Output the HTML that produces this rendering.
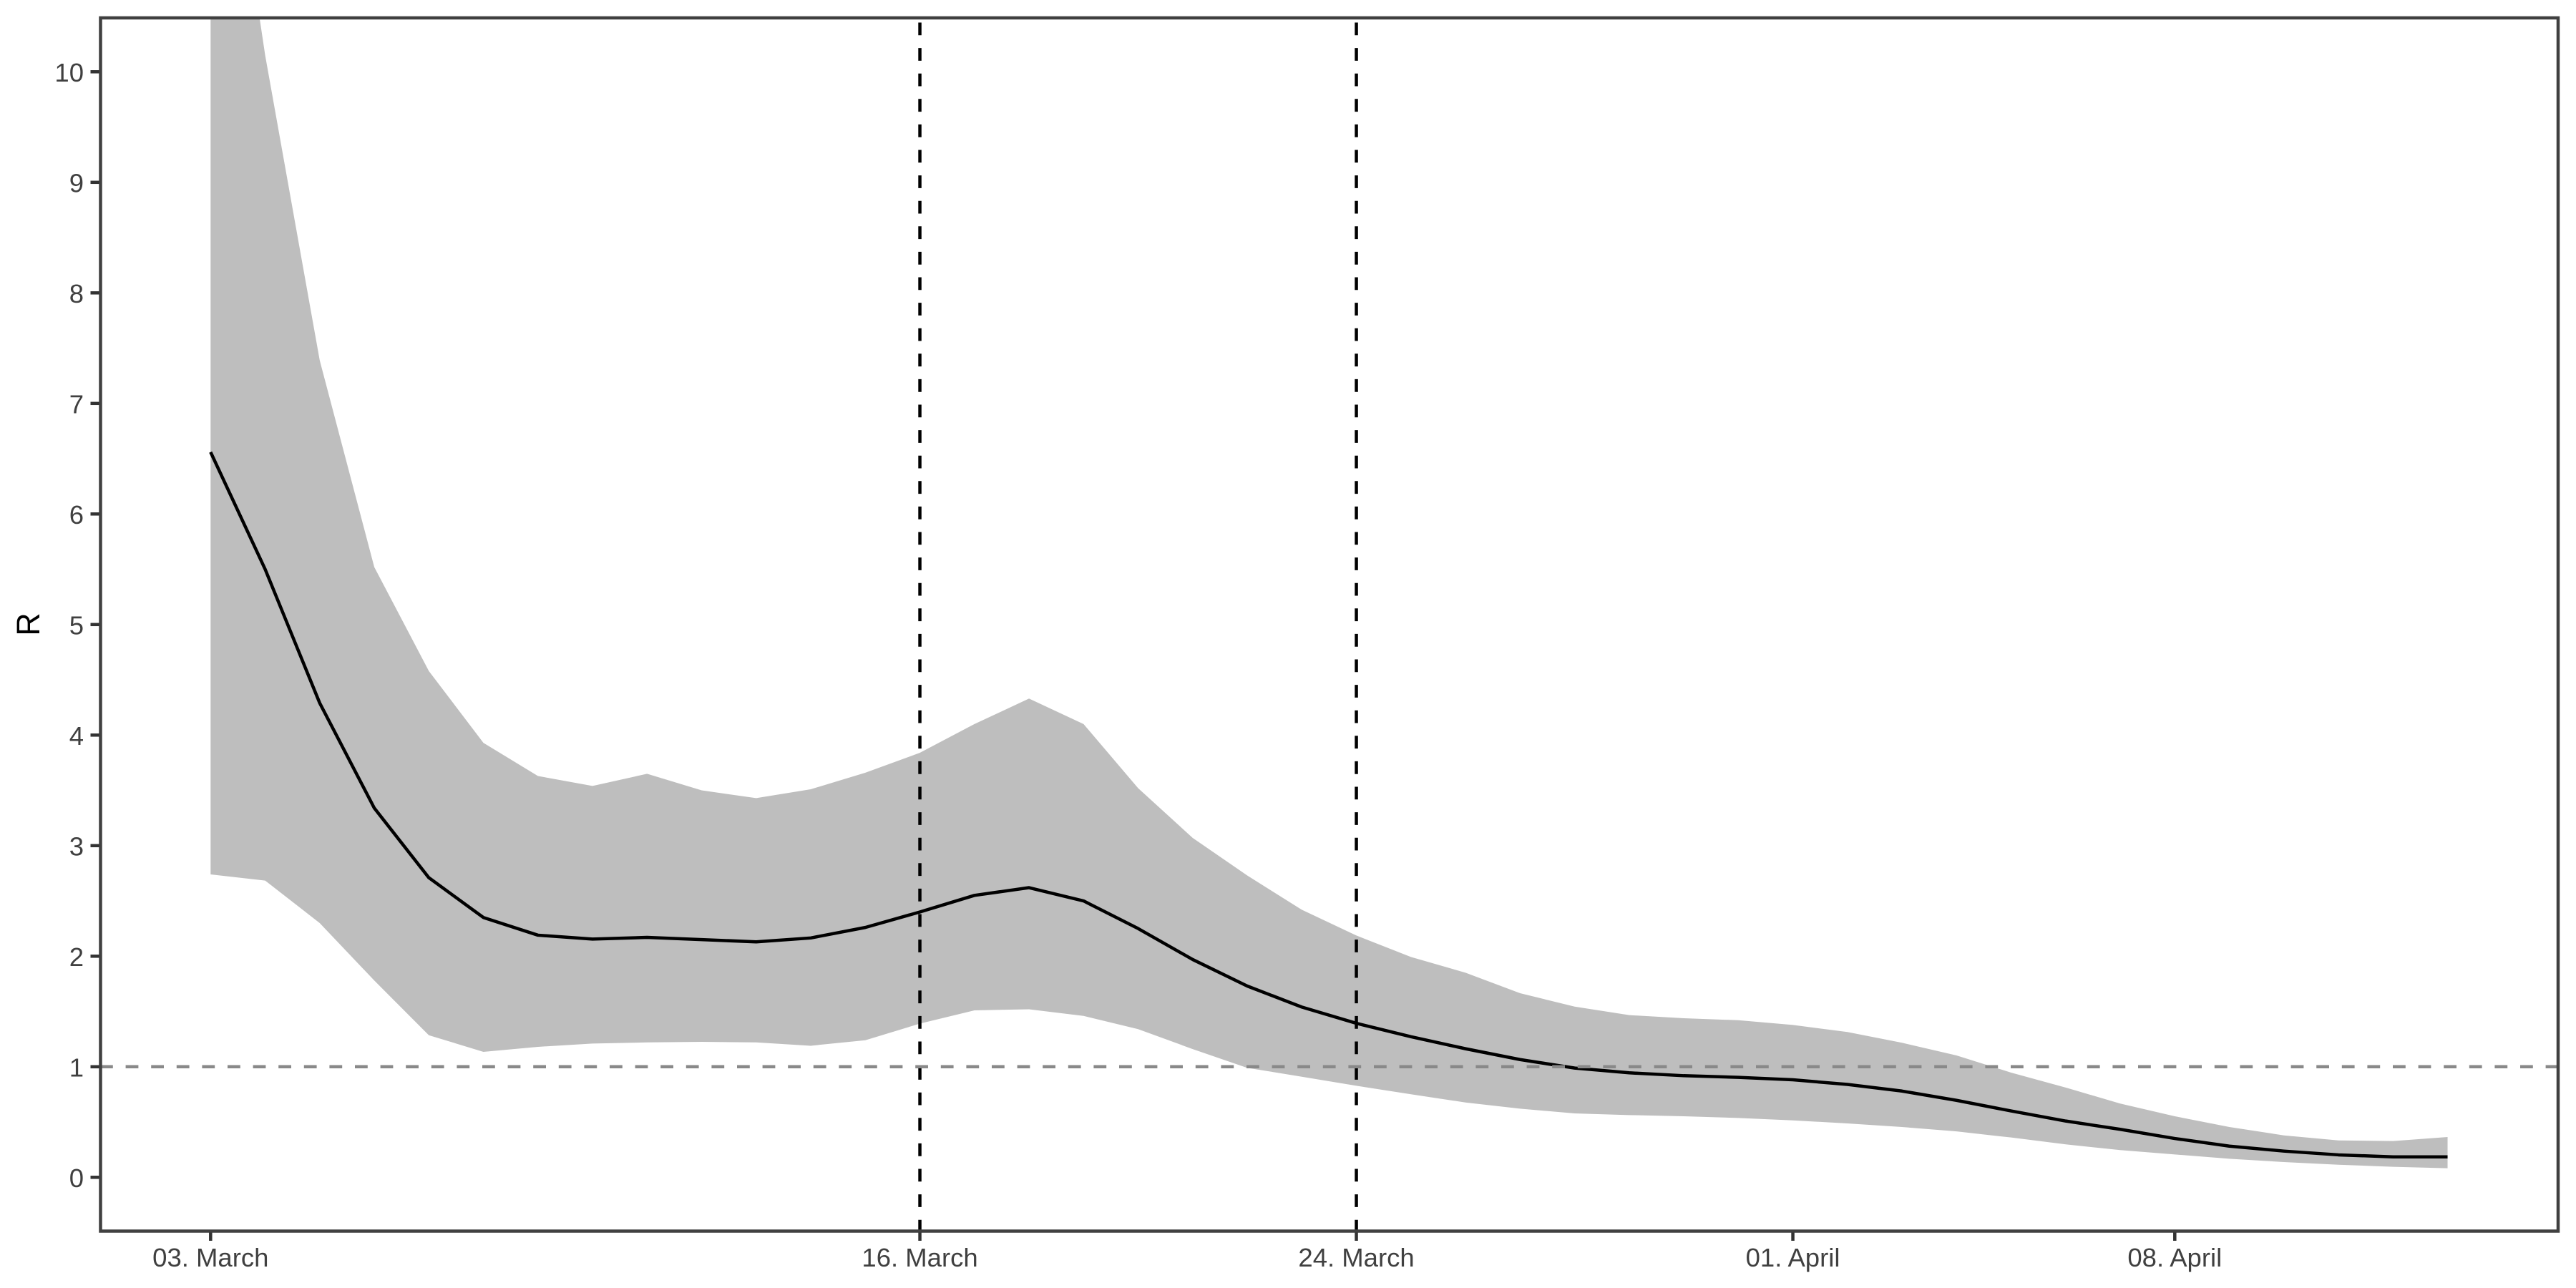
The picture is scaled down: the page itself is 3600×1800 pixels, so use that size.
<!DOCTYPE html>
<html lang="en">
<head>
<meta charset="utf-8">
<title>R over time</title>
<style>
html,body{margin:0;padding:0;background:#fff;width:3600px;height:1800px;overflow:hidden}
svg{display:block}
text{font-family:"Liberation Sans",Arial,sans-serif}
</style>
</head>
<body>
<svg id="chart" xmlns="http://www.w3.org/2000/svg" width="3600" height="1800" viewBox="0 0 3600 1800">
  <rect x="0" y="0" width="3600" height="1800" fill="#ffffff"/>
  <defs><clipPath id="panel-clip"><rect x="140" y="25" width="3435" height="1695.5"/></clipPath></defs>
  <g id="panel-layer" clip-path="url(#panel-clip)"></g>
  <rect x="140.5" y="25" width="3434.5" height="1695.5" fill="none" stroke="#404040" stroke-width="4.5"/>
  <g id="axis-layer"></g>
  <text transform="translate(55,872.5) rotate(-90)" text-anchor="middle" font-size="45" fill="#000000">R</text>
</svg>
<script>
// Day index counted from 03 March
const dayIndex = [0,1,2,3,4,5,6,7,8,9,10,11,12,13,14,15,16,17,18,19,20,21,22,23,24,25,26,27,28,29,30,31,32,33,34,35,36,37,38,39,40,41];
const medianR = [6.56,5.5,4.29,3.34,2.71,2.35,2.19,2.155,2.17,2.15,2.13,2.165,2.26,2.4,2.55,2.62,2.5,2.25,1.97,1.73,1.54,1.393,1.272,1.163,1.065,0.988,0.945,0.919,0.904,0.882,0.84,0.78,0.696,0.6,0.509,0.434,0.351,0.282,0.237,0.203,0.185,0.185];
const upperR = [13.45,10.15,7.39,5.52,4.58,3.93,3.63,3.54,3.65,3.5,3.43,3.51,3.66,3.84,4.1,4.33,4.1,3.52,3.07,2.73,2.42,2.187,1.993,1.851,1.665,1.544,1.467,1.439,1.421,1.378,1.314,1.217,1.102,0.947,0.812,0.667,0.552,0.455,0.379,0.334,0.328,0.364];
const lowerR = [2.74,2.684,2.3,1.78,1.285,1.135,1.18,1.21,1.22,1.225,1.22,1.19,1.24,1.39,1.51,1.52,1.46,1.34,1.16,0.99,0.91,0.828,0.751,0.677,0.621,0.578,0.563,0.552,0.537,0.515,0.487,0.455,0.415,0.36,0.298,0.246,0.207,0.168,0.138,0.114,0.095,0.082];
const yTickValues = [0,1,2,3,4,5,6,7,8,9,10];
const xTickDays = [0,13,21,29,36];
const xTickLabels = ['03. March','16. March','24. March','01. April','08. April'];
const eventDays = [13,21];
const referenceR = [1];

const NS = 'http://www.w3.org/2000/svg';
const panelLeft = 140, panelRight = 3575, panelTop = 25, panelBottom = 1720.5;
function xScale(day){ return 294.3 + day * 76.25; }
function yScale(r){ return 1645.3 - r * 154.5; }
function make(tag, attrs, parent){
  const el = document.createElementNS(NS, tag);
  for (const k in attrs) el.setAttribute(k, attrs[k]);
  parent.appendChild(el);
  return el;
}
const panel = document.getElementById('panel-layer');
const axes = document.getElementById('axis-layer');

const upperPts = dayIndex.map((d,i) => xScale(d).toFixed(2) + ',' + yScale(upperR[i]).toFixed(2));
const lowerPts = dayIndex.map((d,i) => xScale(d).toFixed(2) + ',' + yScale(lowerR[i]).toFixed(2)).reverse();
const ribbon = make('polygon', {points: upperPts.concat(lowerPts).join(' '), fill:'#bebebe', stroke:'none'}, panel);



eventDays.forEach(function(d){
  const v = make('line', {x1:xScale(d), x2:xScale(d), y1:1722.5, y2:panelTop, stroke:'#000000', 'stroke-width':4.5, 'stroke-dasharray':'17.8 17.8'}, panel);
  
  
});

const medianPts = dayIndex.map((d,i) => xScale(d).toFixed(2) + ',' + yScale(medianR[i]).toFixed(2)).join(' ');
const medianLine = make('polyline', {points: medianPts, fill:'none', stroke:'#000000', 'stroke-width':4.5, 'stroke-linejoin':'round', 'stroke-linecap':'butt'}, panel);



referenceR.forEach(function(r){
  const h = make('line', {x1:panelLeft, x2:panelRight, y1:yScale(r), y2:yScale(r), stroke:'#898989', 'stroke-width':4.5, 'stroke-dasharray':'17.8 17.8'}, panel);
  
  
});

yTickValues.forEach(function(v){
  const t = make('line', {x1:126.5, x2:138.5, y1:yScale(v), y2:yScale(v), stroke:'#333333', 'stroke-width':4.5}, axes);
  
  
  const l = make('text', {x:117, y:yScale(v)+13.5, 'text-anchor':'end', 'font-size':36.5, fill:'#404040'}, axes);
  
  
  l.textContent = String(v);
});

xTickDays.forEach(function(d,i){
  const t = make('line', {x1:xScale(d), x2:xScale(d), y1:1722.5, y2:1734, stroke:'#333333', 'stroke-width':4.5}, axes);
  
  
  const l = make('text', {x:xScale(d), y:1770, 'text-anchor':'middle', 'font-size':36.5, fill:'#404040'}, axes);
  
  
  l.textContent = xTickLabels[i];
});
</script>
</body>
</html>
